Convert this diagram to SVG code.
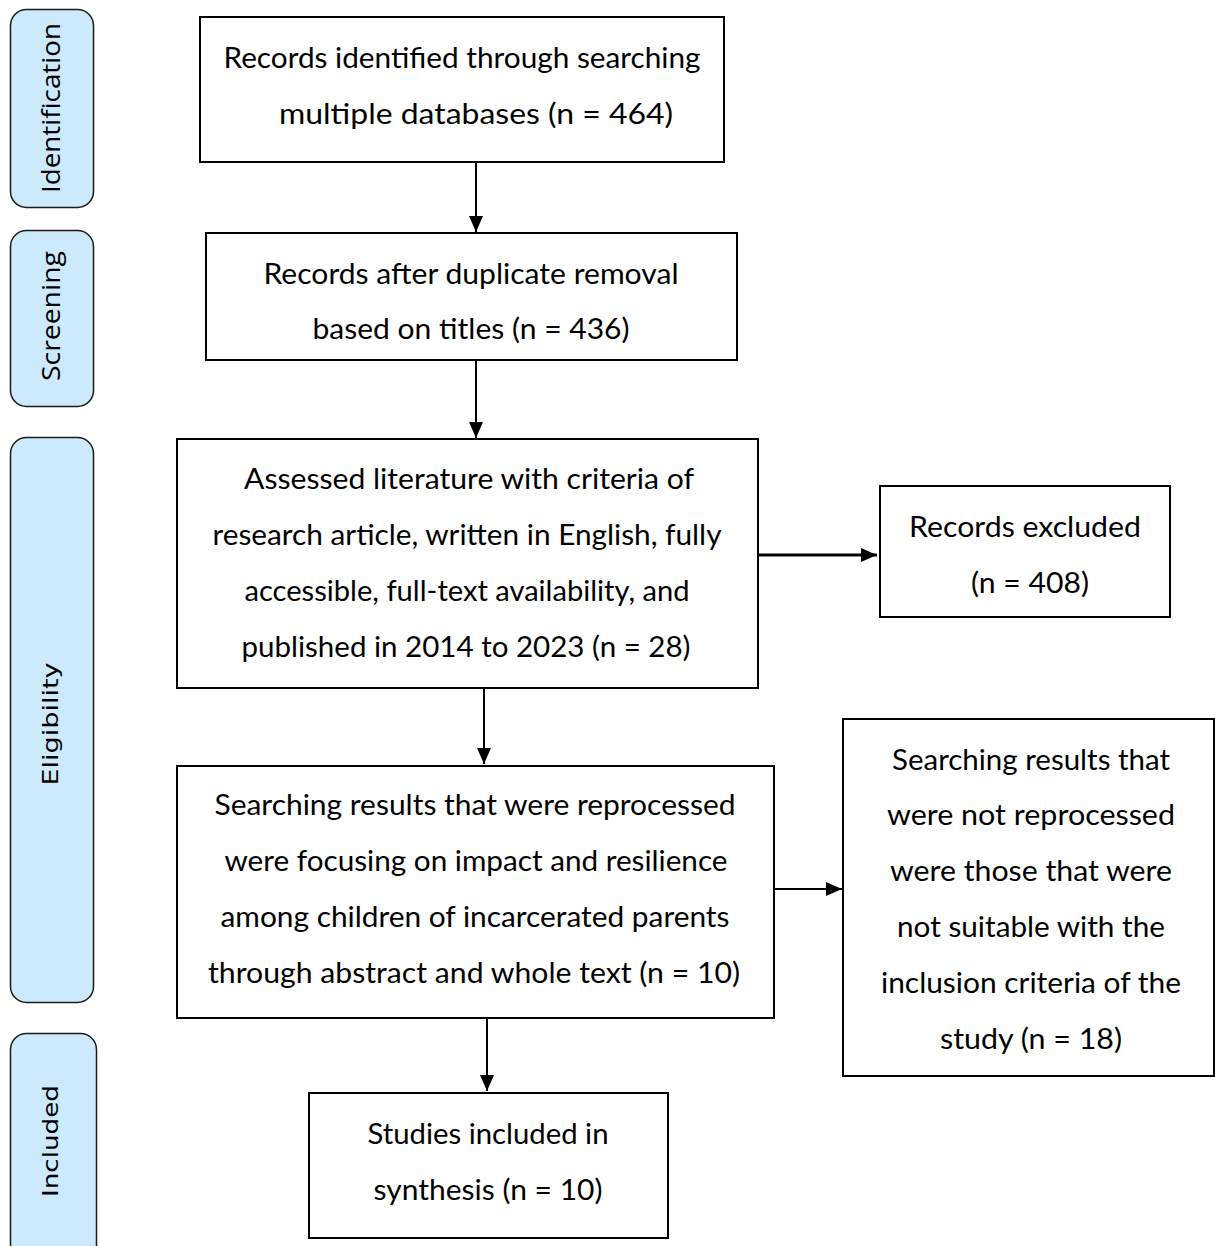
<svg xmlns="http://www.w3.org/2000/svg" width="1215" height="1246" viewBox="0 0 1215 1246">
<style>
.bg{fill:#ffffff}
.box{fill:#ffffff;stroke:#000000;stroke-width:2}
.pill{fill:#cceafb;stroke:#1a1a1a;stroke-width:1.5}
.t{font-family:Lato,"Open Sans","Liberation Sans",sans-serif;font-size:28px;fill:#000000;text-anchor:middle}
.pt{font-family:"Open Sans","Liberation Sans",sans-serif;font-size:26px;fill:#000000;text-anchor:middle}
.pv{font-family:"DejaVu Sans","Liberation Sans",sans-serif;font-size:22px;fill:#000000;text-anchor:middle}
.c{stroke:#000000;stroke-width:2;fill:none}
.c3{stroke:#000000;stroke-width:3;fill:none}
</style>
<defs>
<marker id="arr" viewBox="0 0 16 14" refX="16" refY="7" markerWidth="16" markerHeight="14" markerUnits="userSpaceOnUse" orient="auto">
<path d="M0,0 L16,7 L0,14 z" fill="#000000"/>
</marker>
</defs>
<rect class="bg" x="0" y="0" width="1215" height="1246"/>

<g id="phase-identification">
<rect class="pill" x="10.5" y="9.5" width="83" height="198" rx="16"/>
<text class="pt" transform="translate(60,108) rotate(-90)" textLength="170" lengthAdjust="spacingAndGlyphs">Identification</text>
</g>
<g id="phase-screening">
<rect class="pill" x="10.5" y="230.5" width="83" height="176" rx="16"/>
<text class="pt" transform="translate(60,316) rotate(-90)" textLength="130" lengthAdjust="spacingAndGlyphs">Screening</text>
</g>
<g id="phase-eligibility">
<rect class="pill" x="10.5" y="437.5" width="83" height="565" rx="16"/>
<text class="pv" transform="translate(58,724) rotate(-90)" textLength="123" lengthAdjust="spacingAndGlyphs">Eligibility</text>
</g>
<g id="phase-included">
<rect class="pill" x="10.5" y="1033.5" width="86" height="230" rx="16"/>
<text class="pv" transform="translate(58,1141) rotate(-90)" textLength="112" lengthAdjust="spacingAndGlyphs">Included</text>
</g>

<g id="connectors">
<line class="c" x1="476" y1="163" x2="476" y2="232" marker-end="url(#arr)"/>
<line class="c" x1="476" y1="361" x2="476" y2="438" marker-end="url(#arr)"/>
<line class="c3" x1="759" y1="555" x2="877" y2="555" marker-end="url(#arr)"/>
<line class="c" x1="484" y1="689" x2="484" y2="764" marker-end="url(#arr)"/>
<line class="c" x1="775" y1="889" x2="842" y2="889" marker-end="url(#arr)"/>
<line class="c" x1="487" y1="1019" x2="487" y2="1091" marker-end="url(#arr)"/>
</g>

<g id="node-identified">
<rect class="box" x="200" y="17" width="524" height="145"/>
<text class="t" x="462" y="68" textLength="477" lengthAdjust="spacingAndGlyphs">Records identified through searching</text>
<text class="t" x="476" y="124" textLength="394" lengthAdjust="spacingAndGlyphs">multiple databases (n = 464)</text>
</g>

<g id="node-screened">
<rect class="box" x="206" y="233" width="531" height="127"/>
<text class="t" x="471" y="284" textLength="415" lengthAdjust="spacingAndGlyphs">Records after duplicate removal</text>
<text class="t" x="471" y="339" textLength="317" lengthAdjust="spacingAndGlyphs">based on titles (n = 436)</text>
</g>

<g id="node-assessed">
<rect class="box" x="177" y="439" width="581" height="249"/>
<text class="t" x="469" y="489" textLength="450" lengthAdjust="spacingAndGlyphs">Assessed literature with criteria of</text>
<text class="t" x="467" y="545" textLength="509" lengthAdjust="spacingAndGlyphs">research article, written in English, fully</text>
<text class="t" x="467" y="601" textLength="445" lengthAdjust="spacingAndGlyphs">accessible, full-text availability, and</text>
<text class="t" x="466" y="657" textLength="449" lengthAdjust="spacingAndGlyphs">published in 2014 to 2023 (n = 28)</text>
</g>

<g id="node-excluded">
<rect class="box" x="880" y="486" width="290" height="131"/>
<text class="t" x="1025" y="537" textLength="232" lengthAdjust="spacingAndGlyphs">Records excluded</text>
<text class="t" x="1030" y="593" textLength="118" lengthAdjust="spacingAndGlyphs">(n = 408)</text>
</g>

<g id="node-reprocessed">
<rect class="box" x="177" y="766" width="597" height="252"/>
<text class="t" x="475" y="815" textLength="521" lengthAdjust="spacingAndGlyphs">Searching results that were reprocessed</text>
<text class="t" x="476" y="871" textLength="503" lengthAdjust="spacingAndGlyphs">were focusing on impact and resilience</text>
<text class="t" x="475" y="927" textLength="509" lengthAdjust="spacingAndGlyphs">among children of incarcerated parents</text>
<text class="t" x="474" y="983" textLength="532" lengthAdjust="spacingAndGlyphs">through abstract and whole text (n = 10)</text>
</g>

<g id="node-not-reprocessed">
<rect class="box" x="843" y="719" width="371" height="357"/>
<text class="t" x="1031" y="770" textLength="278" lengthAdjust="spacingAndGlyphs">Searching results that</text>
<text class="t" x="1031" y="825" textLength="288" lengthAdjust="spacingAndGlyphs">were not reprocessed</text>
<text class="t" x="1031" y="881" textLength="282" lengthAdjust="spacingAndGlyphs">were those that were</text>
<text class="t" x="1031" y="937" textLength="268" lengthAdjust="spacingAndGlyphs">not suitable with the</text>
<text class="t" x="1031" y="993" textLength="300" lengthAdjust="spacingAndGlyphs">inclusion criteria of the</text>
<text class="t" x="1031" y="1049" textLength="182" lengthAdjust="spacingAndGlyphs">study (n = 18)</text>
</g>

<g id="node-included">
<rect class="box" x="309" y="1093" width="359" height="145"/>
<text class="t" x="488" y="1144" textLength="241" lengthAdjust="spacingAndGlyphs">Studies included in</text>
<text class="t" x="488" y="1200" textLength="229" lengthAdjust="spacingAndGlyphs">synthesis (n = 10)</text>
</g>
</svg>
